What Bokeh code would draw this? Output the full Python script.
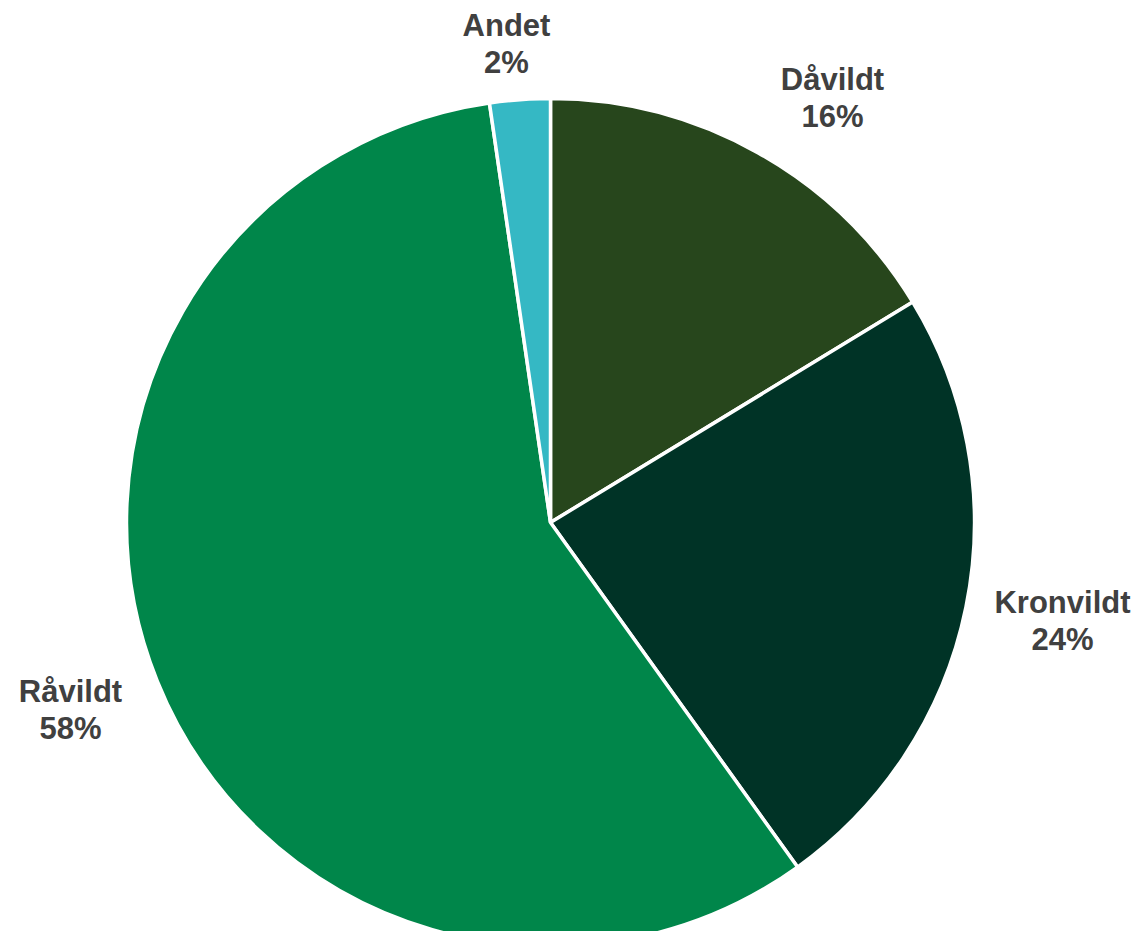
import math
from bokeh.plotting import figure
from bokeh.models import Range1d, ColumnDataSource
from bokeh.core.properties import value
from bokeh.embed import file_html
from bokeh.resources import INLINE

# Data (clockwise from 12 o'clock)
categories = ["Dåvildt", "Kronvildt", "Råvildt", "Andet"]
shares = [16.3, 23.8, 57.6, 2.3]
pct_labels = ["16%", "24%", "58%", "2%"]
colors = ["#27461C", "#003326", "#00864A", "#35B8C4"]

# Layout (image pixel coordinates)
W, H = 1132, 931
cx, cy_img, radius = 550, 522, 424
label_pos = [(832, 97), (1062, 620), (70, 709), (506, 43)]

def fy(img_y):
    return 947 - img_y

total = sum(shares)
starts, ends = [], []
cum = 0.0
for s in shares:
    starts.append(math.pi / 2 - 2 * math.pi * cum / total)
    cum += s
    ends.append(math.pi / 2 - 2 * math.pi * cum / total)

p = figure(width=W, height=H, output_backend="svg", toolbar_location=None,
           x_range=Range1d(0, W), y_range=Range1d(947 - H, 947),
           min_border=0)
p.axis.visible = False
p.grid.visible = False
p.outline_line_color = None
p.background_fill_color = "white"

src = ColumnDataSource(dict(start=starts, end=ends, color=colors,
                            x=[cx] * 4, y=[fy(cy_img)] * 4))
p.wedge(x="x", y="y", radius=radius, start_angle="start", end_angle="end",
        direction="clock", fill_color="color", line_color="white",
        line_width=3.5, source=src)

lsrc = ColumnDataSource(dict(
    x=[lp[0] for lp in label_pos],
    y1=[fy(lp[1] - 18) for lp in label_pos],
    y2=[fy(lp[1] + 19) for lp in label_pos],
    name=categories, pct=pct_labels))
common = dict(text_align="center", text_baseline="middle",
              text_font=value("Liberation Sans"), text_font_style="bold",
              text_font_size="31px", text_color="#404040", source=lsrc)
p.text(x="x", y="y1", text="name", **common)
p.text(x="x", y="y2", text="pct", **common)

open("out.html", "w").write(file_html(p, INLINE))
